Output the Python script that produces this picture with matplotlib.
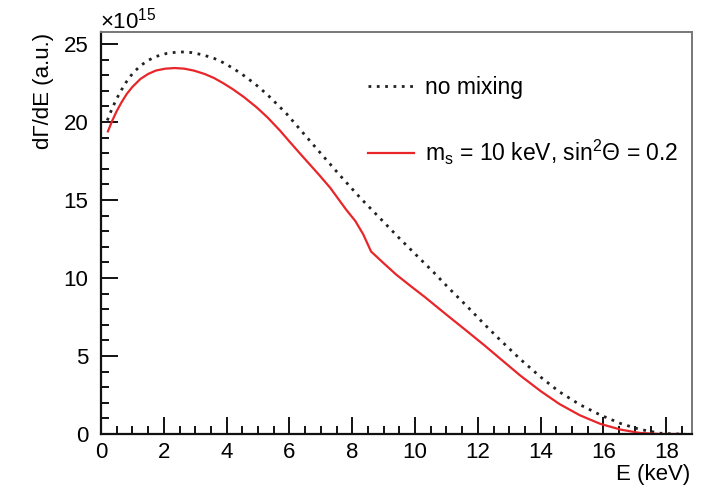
import matplotlib
matplotlib.use("Agg")
import matplotlib.pyplot as plt
from matplotlib.ticker import MultipleLocator

plt.rcParams['font.family'] = ['Liberation Sans', 'DejaVu Sans']
plt.rcParams['mathtext.fontset'] = 'custom'
plt.rcParams['mathtext.rm'] = 'Liberation Sans'
plt.rcParams['mathtext.it'] = 'Liberation Sans:italic'
plt.rcParams['mathtext.bf'] = 'Liberation Sans:bold'

# electron energy (keV) and dGamma/dE in units of 1e15
e_nomix = [0.2, 0.35, 0.5, 0.65, 0.8, 1.0, 1.25, 1.5, 1.75, 2.1, 2.5, 2.9,
           3.25, 3.6, 3.9, 4.2, 4.5, 4.9, 5.3, 5.9, 6.35, 6.95, 7.6, 8.25,
           8.9, 9.5, 10.1, 10.6, 11.1, 11.65, 12.2, 12.7, 13.35, 14.0, 14.6,
           15.25, 15.9, 16.55, 17.15, 17.8, 18.3, 18.6]
rate_nomix = [20.1, 20.85, 21.5, 22.05, 22.55, 23.1, 23.6, 23.95, 24.2, 24.4,
              24.5, 24.45, 24.3, 24.08, 23.8, 23.45, 23.05, 22.45, 21.75,
              20.55, 19.5, 18.1, 16.6, 15.15, 13.8, 12.55, 11.35, 10.35, 9.3,
              8.2, 7.05, 6.05, 4.8, 3.65, 2.7, 1.88, 1.22, 0.67, 0.3, 0.05,
              0.0, 0.0]

e_mix = [0.22, 0.35, 0.5, 0.65, 0.82, 1.0, 1.25, 1.5, 1.75, 2.05, 2.35, 2.65,
         2.95, 3.3, 3.6, 3.9, 4.2, 4.55, 4.95, 5.3, 5.7, 6.0, 6.35, 6.95, 7.3,
         7.8, 8.1, 8.35, 8.6, 9.0, 9.4, 9.85, 10.3, 11.0, 11.65, 12.2, 12.7,
         13.35, 14.0, 14.6, 15.25, 15.9, 16.55, 17.15, 17.8, 18.45]
rate_mix = [19.4, 20.05, 20.7, 21.25, 21.8, 22.25, 22.75, 23.08, 23.3, 23.42,
            23.46, 23.42, 23.3, 23.08, 22.82, 22.48, 22.1, 21.6, 20.95, 20.3,
            19.45, 18.75, 17.95, 16.6, 15.78, 14.4, 13.65, 12.8, 11.7, 10.95,
            10.22, 9.5, 8.8, 7.65, 6.6, 5.7, 4.85, 3.75, 2.75, 1.92, 1.2,
            0.65, 0.28, 0.07, 0.0, 0.0]

W, H = 710, 490
fig = plt.figure(figsize=(W / 100, H / 100), dpi=100)
ax = fig.add_axes([101 / W, 56 / H, 591 / W, 402 / H])

ax.plot(e_nomix, rate_nomix, color='#222222', lw=2.0, ls=(0, (1, 2)),
        label='no mixing')
ax.plot(e_mix, rate_mix, color='#e8262a', lw=1.6,
        label=r'm$_{\rm s}$ = 10 keV, sin$^{2}$Θ = 0.2')

ax.set_xlim(0, 18.82)
ax.set_ylim(0, 25.77)
ax.xaxis.set_major_locator(MultipleLocator(2))
ax.xaxis.set_minor_locator(MultipleLocator(0.5))
ax.yaxis.set_major_locator(MultipleLocator(5))
ax.yaxis.set_minor_locator(MultipleLocator(1))
ax.tick_params(which='both', direction='in', top=False, right=False,
               width=1.4, labelsize=16, color='#111111')
ax.tick_params(which='major', length=12)
ax.tick_params(which='minor', length=5.8)
ax.tick_params(axis='x', pad=6)
ax.tick_params(axis='y', pad=9)

for side in ['left', 'bottom']:
    ax.spines[side].set_linewidth(1.6)
    ax.spines[side].set_color('#111111')
for side in ['top', 'right']:
    ax.spines[side].set_linewidth(1.4)
    ax.spines[side].set_color('#777777')

fig.text(43 / W, 1 - 33 / H, 'dΓ/dE (a.u.)', rotation=90, ha='center',
         va='top', fontsize=16)
fig.text(690 / W, 1 - 474 / H, 'E (keV)', ha='right', va='center',
         fontsize=16)
fig.text(100 / W, 1 - 28 / H, r'×10$^{15}$', ha='left', va='baseline',
         fontsize=16)

ax.legend(loc='upper left', bbox_to_anchor=(368 / W, 1 - 76 / H),
          bbox_transform=fig.transFigure, frameon=False, fontsize=16.5,
          handlelength=2.0, handletextpad=0.5, labelspacing=1.7,
          borderpad=0, borderaxespad=0)

fig.savefig('out.png', dpi=100)
